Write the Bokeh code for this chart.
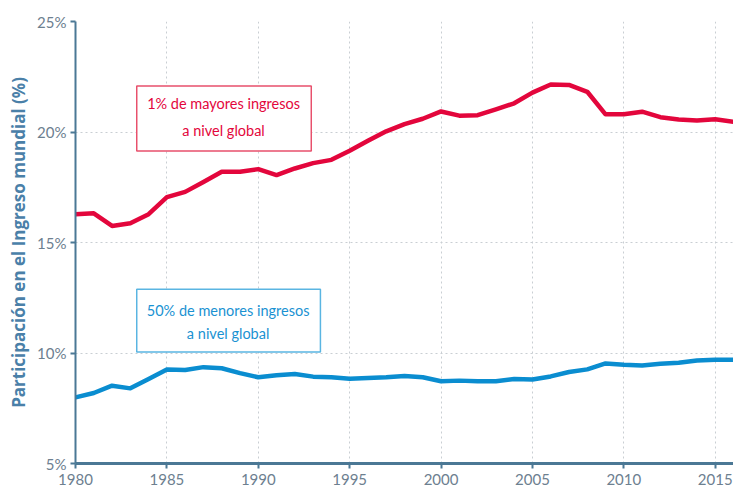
from bokeh.plotting import figure
from bokeh.models import Range1d, FixedTicker, PrintfTickFormatter, BoxAnnotation, Label
from bokeh.embed import file_html
from bokeh.resources import INLINE

years = list(range(1980, 2017))
top1 = [16.28, 16.32, 15.75, 15.87, 16.28, 17.05, 17.29, 17.74, 18.2, 18.2,
        18.32, 18.05, 18.35, 18.59, 18.74, 19.15, 19.6, 20.03, 20.36, 20.6,
        20.93, 20.74, 20.76, 21.02, 21.3, 21.78, 22.15, 22.13, 21.82, 20.8,
        20.8, 20.92, 20.67, 20.57, 20.52, 20.58, 20.46]
bottom50 = [7.99, 8.19, 8.52, 8.40, 8.82, 9.25, 9.23, 9.36, 9.31, 9.09,
            8.90, 8.99, 9.05, 8.93, 8.90, 8.83, 8.87, 8.90, 8.96, 8.90,
            8.72, 8.75, 8.72, 8.72, 8.82, 8.80, 8.94, 9.14, 9.26, 9.53,
            9.47, 9.43, 9.51, 9.56, 9.66, 9.69, 9.70]
x_ticks = [1980, 1985, 1990, 1995, 2000, 2005, 2010, 2015]
y_ticks = [5, 10, 15, 20, 25]
label_top = ["1% de mayores ingresos", "a nivel global"]
label_bottom = ["50% de menores ingresos", "a nivel global"]

RED = "#e3063c"
BLUE = "#0a8dd0"
AXIS = "#4b7895"
TICKTXT = "#6d8090"
FONT = "Lato"

p = figure(width=733, height=487, output_backend="svg",
           toolbar_location=None, x_range=Range1d(1980, 2016), y_range=Range1d(5, 25),
           min_border_left=75, min_border_right=0, min_border_top=21, min_border_bottom=10)
p.outline_line_color = None
p.background_fill_color = "white"

p.xaxis.ticker = FixedTicker(ticks=x_ticks)
p.yaxis.ticker = FixedTicker(ticks=y_ticks)
p.yaxis.formatter = PrintfTickFormatter(format="%d%%")

for ax in (p.xaxis, p.yaxis):
    ax.axis_line_color = AXIS
    ax.major_tick_line_color = AXIS
    ax.major_tick_line_width = 2
    ax.minor_tick_line_color = None
    ax.major_tick_in = 0
    ax.major_tick_out = 5
    ax.major_label_text_color = TICKTXT
    ax.major_label_text_font = FONT
    ax.major_label_text_font_size = "15px"
p.xaxis.axis_line_width = 3
p.yaxis.axis_line_width = 2
p.xaxis.major_label_standoff = 5
p.yaxis.major_label_standoff = 4

p.yaxis.axis_label = "Participación en el Ingreso mundial (%)"
p.yaxis.axis_label_text_font = "Open Sans"
p.yaxis.axis_label_text_font_style = "bold"
p.yaxis.axis_label_text_font_size = "17px"
p.yaxis.axis_label_text_color = "#4a80a8"
p.yaxis.axis_label_standoff = 4

p.xgrid.ticker = FixedTicker(ticks=x_ticks[1:])
p.ygrid.ticker = FixedTicker(ticks=y_ticks[1:])
for g in (p.xgrid, p.ygrid):
    g.grid_line_color = "#c9ced3"
    g.grid_line_dash = "2 3"
    g.grid_line_width = 1

p.line(years, top1, line_color=RED, line_width=4.5, line_join="round")
p.line(years, bottom50, line_color=BLUE, line_width=4.5, line_join="round")

p.add_layout(BoxAnnotation(left=1983.35, right=1992.9, bottom=19.14, top=22.08,
                           fill_color="white", fill_alpha=1, line_color="#e8506c", line_alpha=1,
                           line_width=1.5, level="annotation"))
p.add_layout(BoxAnnotation(left=1983.35, right=1993.4, bottom=10.05, top=12.88,
                           fill_color="white", fill_alpha=1, line_color="#5ab5e2", line_alpha=1,
                           line_width=1.5, level="annotation"))

for txt, y in zip(label_top, [21.27, 20.09]):
    p.add_layout(Label(x=1988.1, y=y, text=txt, text_align="center", text_baseline="middle",
                       text_color=RED, text_font=FONT, text_font_size="14.5px", level="overlay"))
for txt, y in zip(label_bottom, [11.93, 10.88]):
    p.add_layout(Label(x=1988.35, y=y, text=txt, text_align="center", text_baseline="middle",
                       text_color="#1a92d2", text_font=FONT, text_font_size="14.5px", level="overlay"))

open("out.html", "w").write(file_html(p, INLINE))
